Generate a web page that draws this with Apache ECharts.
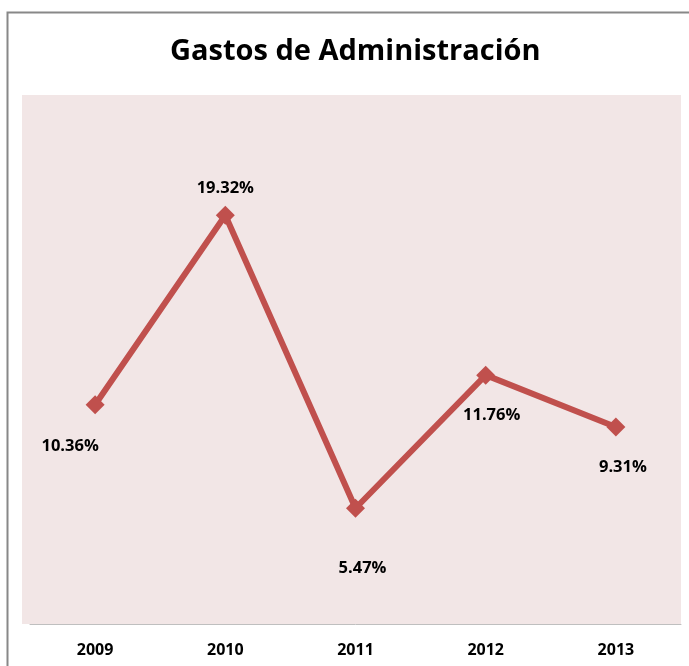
<!DOCTYPE html>
<html><head><meta charset="utf-8">
<script src="https://cdn.jsdelivr.net/npm/echarts@6/dist/echarts.min.js"></script>
<style>html,body{margin:0;padding:0;background:#fff}#c{width:689px;height:666px}</style>
</head><body><div id="c"></div>
<script>
const categories = ['2009','2010','2011','2012','2013'];
const values = [10.36, 19.32, 5.47, 11.76, 9.31];
const labelOffsets = [[-25,42],[0,-27],[7,60],[6,40],[7,40]];

const chart = echarts.init(document.getElementById('c'));
const font = '"Open Sans", "Liberation Sans", sans-serif';
chart.setOption({
  animation: false,
  backgroundColor: '#ffffff',
  title: {
    text: 'Gastos de Administración', left: 165, top: 32,
    textStyle: {fontFamily: font, fontWeight: 'bold', fontSize: 29, color: '#000'}
  },
  graphic: [
    {type:'rect', z:-10, shape:{x:22,y:95,width:659,height:529}, style:{fill:'#F2E6E6'}},
    {type:'polyline', z:-5, shape:{points:[[7.5,666],[7.5,12.5],[689,12.5]]}, style:{stroke:'#888',lineWidth:2,fill:null}}
  ],
  grid: {left: 30, right: 8, top: 95, bottom: 42},
  xAxis: {
    type: 'category', data: categories, boundaryGap: true,
    axisLine: {lineStyle: {color: '#BFBFBF', width: 1}},
    axisTick: {show: false},
    axisLabel: {margin: 18, fontFamily: font, fontWeight: 'bold', fontSize: 16, color: '#000'}
  },
  yAxis: {type: 'value', min: 0, max: 25, show: false, splitLine: {show: false}},
  series: [{
    type: 'line', data: values.map((v,i)=>({value:v, label:{offset:labelOffsets[i]}})),
    symbol: 'diamond', symbolSize: 19,
    lineStyle: {color: '#C0504D', width: 6},
    itemStyle: {color: '#C0504D'},
    label: {show: true, position: 'inside', formatter: p => p.value.toFixed(2) + '%',
      fontFamily: font, fontWeight: 'bold', fontSize: 16.5, color: '#000'}
  }]
});
</script></body></html>
